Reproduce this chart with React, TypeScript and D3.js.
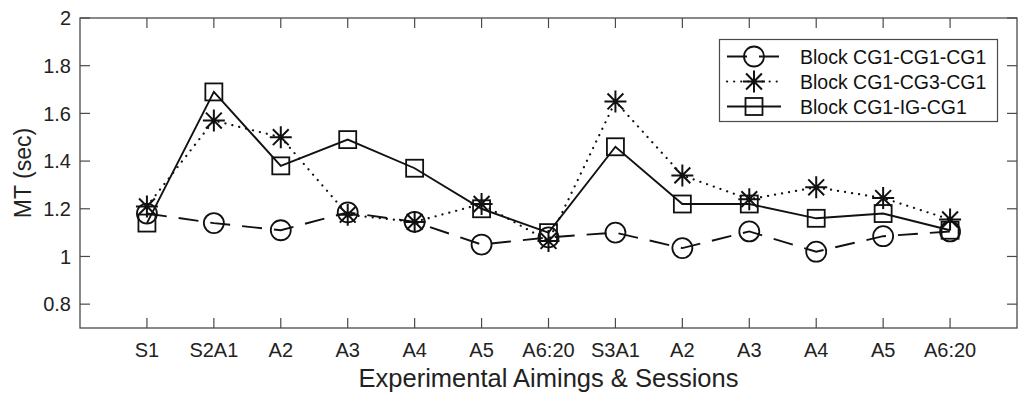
import React from "react";
import * as d3 from "d3";

// Session / aiming labels along the x axis
const categories = ["S1", "S2A1", "A2", "A3", "A4", "A5", "A6:20", "S3A1", "A2", "A3", "A4", "A5", "A6:20"];

// Mean movement time (sec) per block
const blockCg1Cg1Cg1 = [1.18, 1.14, 1.11, 1.185, 1.145, 1.05, 1.08, 1.1, 1.035, 1.105, 1.02, 1.085, 1.105];
const blockCg1Cg3Cg1 = [1.21, 1.57, 1.5, 1.175, 1.145, 1.22, 1.065, 1.65, 1.34, 1.24, 1.29, 1.245, 1.155];
const blockCg1IgCg1 = [1.14, 1.69, 1.38, 1.49, 1.37, 1.2, 1.1, 1.46, 1.22, 1.22, 1.16, 1.18, 1.11];

const seriesNames = ["Block CG1-CG1-CG1", "Block CG1-CG3-CG1", "Block CG1-IG-CG1"];
const yTicks = [0.8, 1, 1.2, 1.4, 1.6, 1.8, 2];

const W = 1019;
const H = 400;
const plot = { left: 80, right: 1017, top: 18, bottom: 328 };
const FONT = "'Liberation Sans', Arial, Helvetica, sans-serif";
const INK = "#111";
const AXIS = "#4a4a4a";
const TICK_LEN = 10;

type MarkerKind = "circle" | "star" | "square";

function Marker({ kind, x, y }: { kind: MarkerKind; x: number; y: number }) {
  if (kind === "circle") {
    return <circle cx={x} cy={y} r={10} fill="none" stroke={INK} strokeWidth={1.8} />;
  }
  if (kind === "square") {
    return <rect x={x - 8.5} y={y - 8.5} width={17} height={17} fill="none" stroke={INK} strokeWidth={1.8} />;
  }
  const r = 11;
  const d = r * 0.72;
  const path = `M${x - r},${y}L${x + r},${y}M${x},${y - r}L${x},${y + r}M${x - d},${y - d}L${x + d},${y + d}M${x - d},${y + d}L${x + d},${y - d}`;
  return <path d={path} fill="none" stroke={INK} strokeWidth={2} />;
}

export default function App() {
  const x = d3.scaleLinear().domain([0, categories.length + 1]).range([plot.left, plot.right]);
  const y = d3.scaleLinear().domain([0.7, 2]).range([plot.bottom, plot.top]);
  const fmt = (v: number) => String(+v.toFixed(1));

  const series: { values: number[]; kind: MarkerKind; dash: string | undefined; cap: "butt" | "round" }[] = [
    { values: blockCg1Cg1Cg1, kind: "circle", dash: "20 12", cap: "butt" },
    { values: blockCg1Cg3Cg1, kind: "star", dash: "0.1 7", cap: "round" },
    { values: blockCg1IgCg1, kind: "square", dash: undefined, cap: "butt" },
  ];

  const line = d3
    .line<number>()
    .x((_, i) => x(i + 1))
    .y((v) => y(v));

  const legend = { x: 719.5, y: 39.5, w: 278, h: 82 };
  const legendRows = [56.5, 81.5, 106.5];

  return (
    <svg
      width={W}
      height={H}
      style={{ position: "absolute", left: 0, top: 0, background: "#fff" }}
      fontFamily={FONT}
    >
      <rect x={0} y={0} width={W} height={H} fill="#fff" />

      {/* frame */}
      <rect
        x={plot.left}
        y={plot.top}
        width={plot.right - plot.left}
        height={plot.bottom - plot.top}
        fill="none"
        stroke={AXIS}
        strokeWidth={1.3}
      />

      {/* y ticks, mirrored on the right */}
      {yTicks.map((t) => (
        <g key={`y${t}`}>
          <line x1={plot.left} x2={plot.left + TICK_LEN} y1={y(t)} y2={y(t)} stroke={AXIS} strokeWidth={1.2} />
          <line x1={plot.right} x2={plot.right - TICK_LEN} y1={y(t)} y2={y(t)} stroke={AXIS} strokeWidth={1.2} />
          <text x={plot.left - 9} y={y(t)} dy="0.36em" textAnchor="end" fontSize={20} fill="#222">
            {fmt(t)}
          </text>
        </g>
      ))}

      {/* x ticks, mirrored on top */}
      {categories.map((c, i) => (
        <g key={`x${i}`}>
          <line x1={x(i + 1)} x2={x(i + 1)} y1={plot.bottom} y2={plot.bottom - TICK_LEN} stroke={AXIS} strokeWidth={1.2} />
          <line x1={x(i + 1)} x2={x(i + 1)} y1={plot.top} y2={plot.top + TICK_LEN} stroke={AXIS} strokeWidth={1.2} />
          <text x={x(i + 1)} y={357} textAnchor="middle" fontSize={20} fill="#222">
            {c}
          </text>
        </g>
      ))}

      {/* axis titles */}
      <text x={(plot.left + plot.right) / 2} y={387} textAnchor="middle" fontSize={25.5} fill="#222">
        Experimental Aimings &amp; Sessions
      </text>
      <text
        transform={`translate(31,${(plot.top + plot.bottom) / 2}) rotate(-90)`}
        textAnchor="middle"
        fontSize={23}
        fill="#222"
      >
        MT (sec)
      </text>

      {/* series */}
      {series.map((s, si) => (
        <g key={`s${si}`}>
          <path
            d={line(s.values) ?? ""}
            fill="none"
            stroke={INK}
            strokeWidth={si === 1 ? 2.2 : 1.9}
            strokeDasharray={s.dash}
            strokeLinecap={s.cap}
          />
          {s.values.map((v, i) => (
            <Marker key={i} kind={s.kind} x={x(i + 1)} y={y(v)} />
          ))}
        </g>
      ))}

      {/* legend */}
      <rect x={legend.x} y={legend.y} width={legend.w} height={legend.h} fill="#fff" stroke={AXIS} strokeWidth={1.2} />
      {series.map((s, si) => (
        <g key={`l${si}`}>
          <line
            x1={727}
            x2={781}
            y1={legendRows[si]}
            y2={legendRows[si]}
            stroke={INK}
            strokeWidth={si === 1 ? 2.2 : 1.9}
            strokeDasharray={s.dash}
            strokeLinecap={s.cap}
          />
          <Marker kind={s.kind} x={754} y={legendRows[si]} />
          <text x={800} y={legendRows[si]} dy="0.36em" fontSize={19.5} fill="#111">
            {seriesNames[si]}
          </text>
        </g>
      ))}
    </svg>
  );
}
